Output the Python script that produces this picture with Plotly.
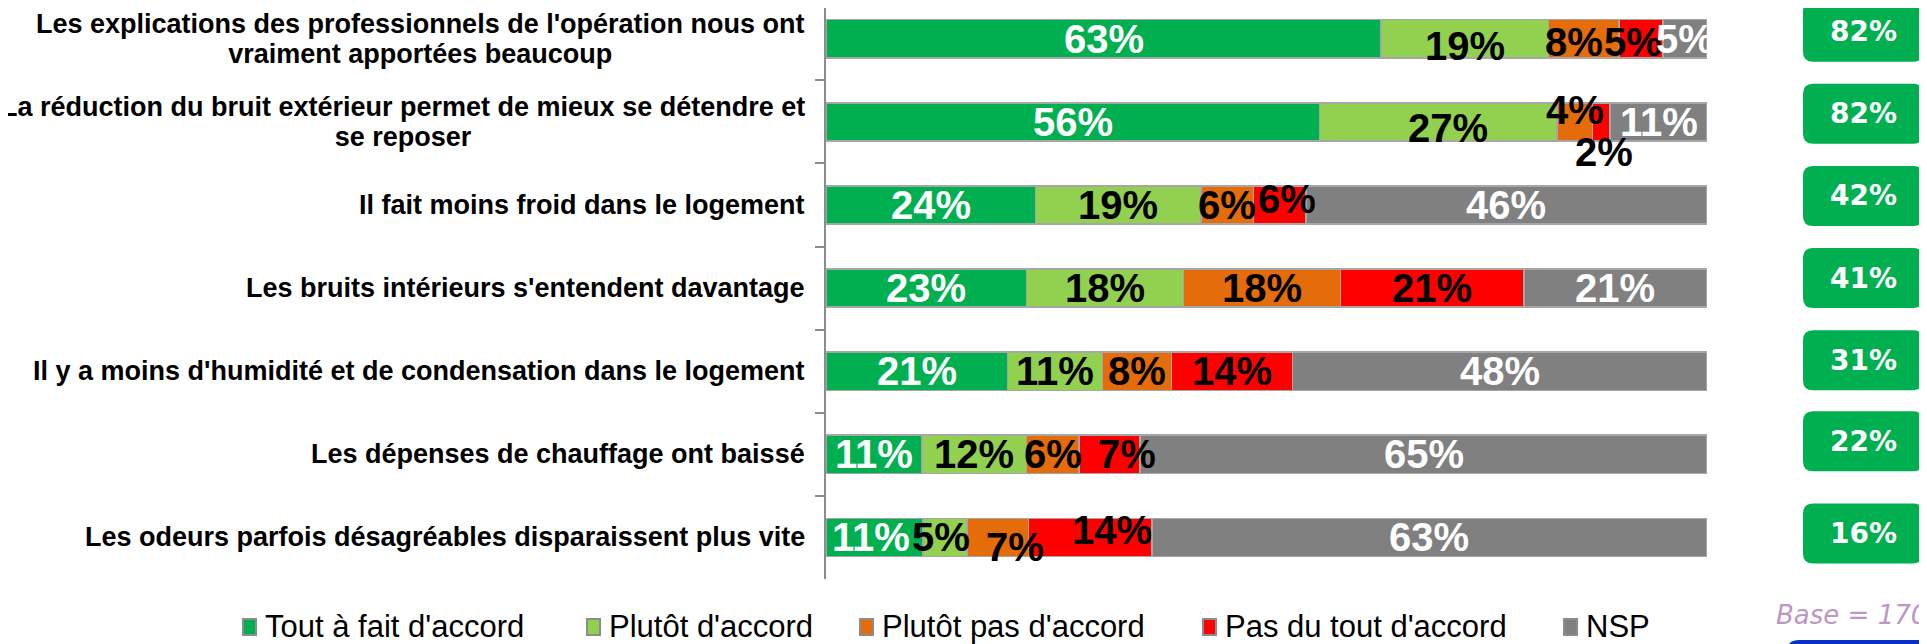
import plotly.graph_objects as go

categories = [
    "Les explications des professionnels de l'opération nous ont<br>vraiment apportées beaucoup",
    "La réduction du bruit extérieur permet de mieux se détendre et<br>se reposer",
    "Il fait moins froid dans le logement",
    "Les bruits intérieurs s'entendent davantage",
    "Il y a moins d'humidité et de condensation dans le logement",
    "Les dépenses de chauffage ont baissé",
    "Les odeurs parfois désagréables disparaissent plus vite",
]
series_names = ["Tout à fait d'accord", "Plutôt d'accord", "Plutôt pas d'accord",
                "Pas du tout d'accord", "NSP"]
tout_a_fait = [63, 56, 24, 23, 21, 11, 11]
plutot = [19, 27, 19, 18, 11, 12, 5]
plutot_pas = [8, 4, 6, 18, 8, 6, 7]
pas_du_tout = [5, 2, 6, 21, 14, 7, 14]
nsp = [5, 11, 46, 21, 48, 65, 63]
total_accord = [82, 82, 42, 41, 31, 22, 16]
base_text = "Base = 170"

series = [tout_a_fait, plutot, plutot_pas, pas_du_tout, nsp]
colors = ["#00B050", "#92D050", "#E46C0A", "#FF0000", "#808080"]
label_colors = ["white", "black", "black", "black", "white"]

# manual label nudges in pixels (dx, dy-up), like hand-moved Excel labels
nudges = {
    (0, 1): (0, -7), (0, 2): (-10, -3), (0, 3): (-8, -3),
    (1, 1): (10, -6), (1, 2): (0, 12), (1, 3): (3, -30),
    (2, 3): (7, 6),
    (5, 3): (18, 0),
    (6, 0): (-3, 0), (6, 1): (-4, 0), (6, 2): (17, -10), (6, 3): (22, 7),
}
badge_dy = [-7, -8, -9, -10, -11, -13, -4]

# geometry (page is offset by the 8px body margin)
OFF = 8
W, H = 1927 - OFF, 644 - OFF
L = 826 - OFF
PW = 881
R = W - L - PW
T = 0
PH = 571
B = H - T - PH
Y_TOP = -0.37
Y_BOT = 6.5


def px(sx):  # screen x -> paper x
    return (sx - OFF - L) / PW


def py(sy):  # screen y -> paper y
    return (PH - (sy - OFF - T)) / PH


def row_screen_y(i):
    return OFF + T + (i - Y_TOP) / (Y_BOT - Y_TOP) * PH


fig = go.Figure()
for name, vals, col in zip(series_names, series, colors):
    fig.add_trace(go.Bar(
        y=categories, x=vals, name=name, orientation="h",
        marker=dict(color=col, line=dict(color="#A6A6A6", width=1.5)),
        showlegend=False,
    ))

annotations = []
shapes = []
LABEL_FONT = "Liberation Sans"
for i, cat in enumerate(categories):
    row = [s[i] for s in series]
    tot = sum(row)
    cum = 0
    for j, v in enumerate(row):
        center = (cum + v / 2) / tot * 100
        cum += v
        dx, dy = nudges.get((i, j), (0, 0))
        annotations.append(dict(
            x=center, y=cat, xref="x", yref="y", text=f"<b>{v}%</b>", showarrow=False,
            xshift=dx, yshift=dy,
            font=dict(family=LABEL_FONT, size=40, color=label_colors[j]),
        ))
    # category label: 27px text with tighter (Excel-like) line spacing
    lines = cat.split("<br>")
    txt = "<br>".join(f"<span style='font-size:27px'><b>{ln}</b></span>" for ln in lines)
    annotations.append(dict(
        x=0, y=cat, xref="paper", yref="y", text=txt, showarrow=False,
        xanchor="right", yanchor="middle", align="center", xshift=-19,
        font=dict(family=LABEL_FONT, size=23, color="black")))

# green badges with totals
bx0, bx1 = px(1803), px(1923)
for i, v in enumerate(total_accord):
    yc_s = row_screen_y(i) + badge_dy[i]
    y0, y1 = py(yc_s + 30), py(yc_s - 30)
    rx, ry = 10 / PW, 10 / PH
    path = (f"M {bx0+rx},{y0} L {bx1-rx},{y0} Q {bx1},{y0} {bx1},{y0+ry} "
            f"L {bx1},{y1-ry} Q {bx1},{y1} {bx1-rx},{y1} L {bx0+rx},{y1} "
            f"Q {bx0},{y1} {bx0},{y1-ry} L {bx0},{y0+ry} Q {bx0},{y0} {bx0+rx},{y0} Z")
    shapes.append(dict(type="path", xref="paper", yref="paper", path=path,
                       fillcolor="#00B050", line=dict(width=0)))
    annotations.append(dict(
        x=(bx0 + bx1) / 2, y=py(yc_s), xref="paper", yref="paper", text=f"<b>{v}%</b>",
        showarrow=False, xanchor="center", yanchor="middle",
        font=dict(family="DejaVu Sans", size=28, color="white"),
    ))

# custom legend
legend_marker_x = [243, 587, 860, 1203, 1564]
legend_y = 626
for name, col, mx in zip(series_names, colors, legend_marker_x):
    shapes.append(dict(type="rect", xref="paper", yref="paper",
                       x0=px(mx), x1=px(mx + 13), y0=py(legend_y + 9), y1=py(legend_y - 7),
                       fillcolor=col, line=dict(color="#8C8C8C", width=2)))
    annotations.append(dict(
        x=px(mx + 20), y=py(legend_y), xref="paper", yref="paper", text=name,
        showarrow=False, xanchor="left", yanchor="middle",
        font=dict(family=LABEL_FONT, size=31, color="black"),
    ))

# Base annotation
annotations.append(dict(
    x=px(1774), y=py(615), xref="paper", yref="paper",
    xanchor="left", yanchor="middle", text=f"<i>{base_text}</i>", showarrow=False,
    font=dict(family="DejaVu Sans", size=26, color="#BC97C6"),
))
# blue tab at bottom right
ax_, bx_ = px(1788), px(1940)
ya_, yb_ = py(660), py(640)
r2x, r2y = 12 / PW, 8 / PH
shapes.append(dict(type="path", xref="paper", yref="paper",
                   path=f"M {ax_},{ya_} L {ax_},{yb_-r2y} Q {ax_},{yb_} {ax_+r2x},{yb_} L {bx_},{yb_} L {bx_},{ya_} Z",
                   fillcolor="#0A2FC8", line=dict(width=0)))

fig.update_layout(
    barmode="stack", barnorm="percent", bargap=0.54,
    width=W, height=H, autosize=False,
    margin=dict(l=L, r=R, t=T, b=B, pad=0),
    plot_bgcolor="white", paper_bgcolor="white",
    showlegend=False,
    xaxis=dict(range=[0, 100], visible=False, fixedrange=True),
    yaxis=dict(type="category", range=[Y_BOT, Y_TOP], showticklabels=False,
               showline=True, linecolor="#8C8C8C", linewidth=2,
               ticks="outside", tickson="boundaries", ticklen=9,
               tickcolor="#8C8C8C", tickwidth=2, showgrid=False, zeroline=False),
    annotations=annotations,
    shapes=shapes,
)

fig.write_html("out.html")
